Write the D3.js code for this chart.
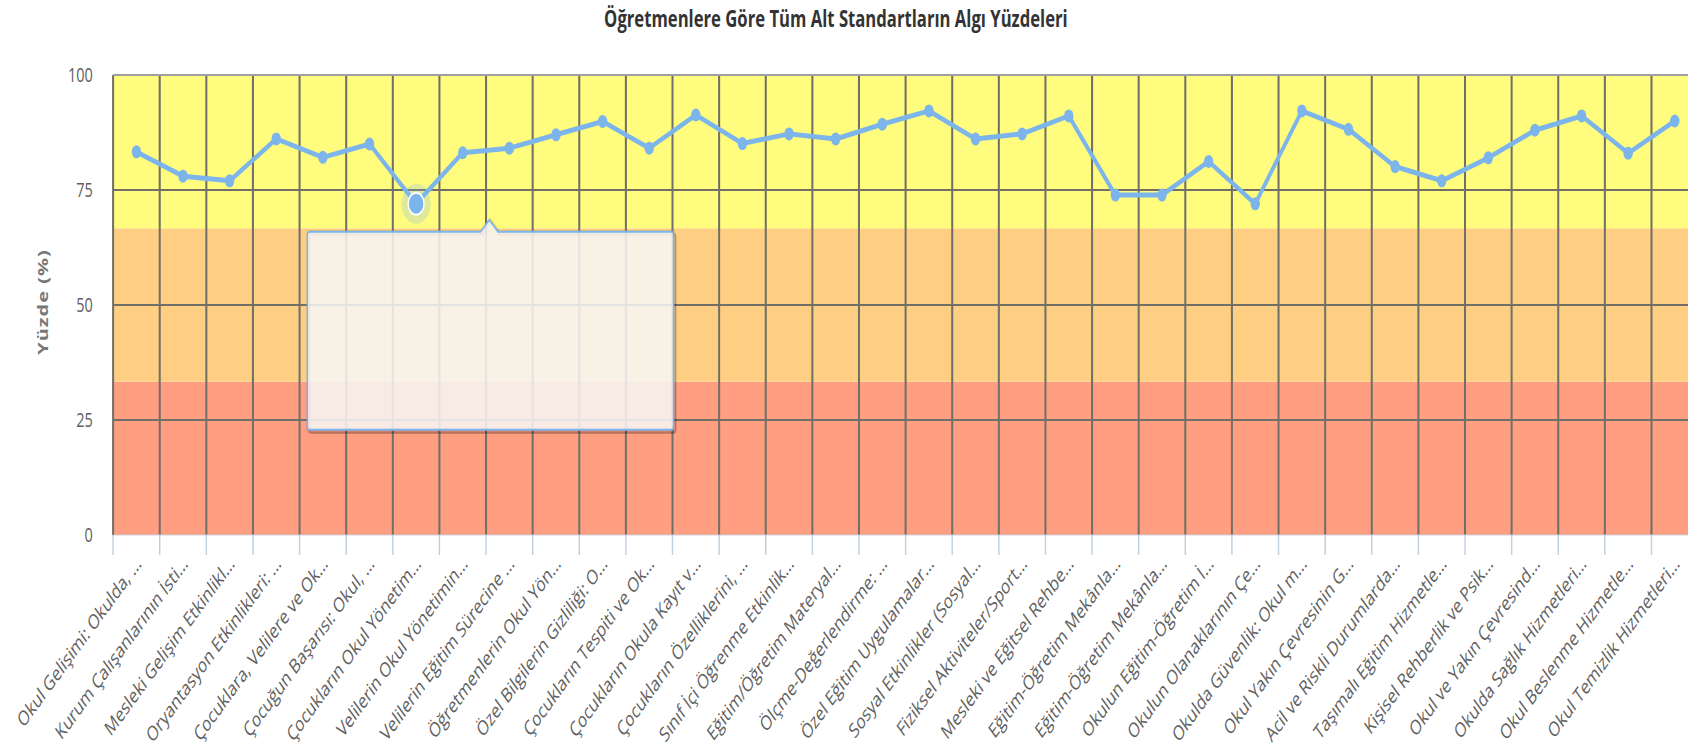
<!DOCTYPE html>
<html>
<head>
<meta charset="utf-8">
<script src="https://cdn.jsdelivr.net/npm/d3@7"></script>
<style>
  body { margin: 0; background: #fff; }
  text { font-family: "Open Sans", "DejaVu Sans", sans-serif; }
</style>
</head>
<body>
<div id="chart"></div>
<script>
// sub-standard labels as they are shown (already truncated by the chart)
const labels = [
    "Okul Gelişimi: Okulda, ...",
    "Kurum Çalışanlarının İsti...",
    "Mesleki Gelişim Etkinlikl...",
    "Oryantasyon Etkinlikleri: ...",
    "Çocuklara, Velilere ve Ok...",
    "Çocuğun Başarısı: Okul, ...",
    "Çocukların Okul Yönetim...",
    "Velilerin Okul Yönetimin...",
    "Velilerin Eğitim Sürecine ...",
    "Öğretmenlerin Okul Yön...",
    "Özel Bilgilerin Gizliliği: O...",
    "Çocukların Tespiti ve Ok...",
    "Çocukların Okula Kayıt v...",
    "Çocukların Özelliklerini, ...",
    "Sınıf İçi Öğrenme Etkinlik...",
    "Eğitim/Öğretim Materyal...",
    "Ölçme-Değerlendirme: ...",
    "Özel Eğitim Uygulamalar...",
    "Sosyal Etkinlikler (Sosyal...",
    "Fiziksel Aktiviteler/Sport...",
    "Mesleki ve Eğitsel Rehbe...",
    "Eğitim-Öğretim Mekânla...",
    "Eğitim-Öğretim Mekânla...",
    "Okulun Eğitim-Öğretim İ...",
    "Okulun Olanaklarının Çe...",
    "Okulda Güvenlik: Okul m...",
    "Okul Yakın Çevresinin G...",
    "Acil ve Riskli Durumlarda...",
    "Taşımalı Eğitim Hizmetle...",
    "Kişisel Rehberlik ve Psik...",
    "Okul ve Yakın Çevresind...",
    "Okulda Sağlık Hizmetleri...",
    "Okul Beslenme Hizmetle...",
    "Okul Temizlik Hizmetleri..."
];

const values = [83.3, 78, 77, 86.1, 82.1, 85, 72, 83.1, 84.1, 87, 89.9, 84.1,
    91.3, 85.1, 87.2, 86.1, 89.3, 92.2, 86.1, 87.2, 91.1, 73.9, 73.9, 81.2,
    72, 92.2, 88.2, 80.1, 77, 82, 88, 91.1, 83, 90];

const yTicks = [0, 25, 50, 75, 100];

// background bands (low / middle / high)
const bandStops = [0, 33.33, 66.67, 100];
const bandColors = ["#ff9e80", "#fece82", "#fffc7e"];

const hoverIndex = 6;

const chartTitle = "Öğretmenlere Göre Tüm Alt Standartların Algı Yüzdeleri";
const yTitle = "Yüzde (%)";

// the reference is squeezed horizontally, draw unsqueezed then scale x
const SX = 0.725;
const width = 1688, height = 755;
const plotLeft = 156, cellW = 64.3;
const plotTop = 75, plotBottom = 535;
const plotRight = plotLeft + cellW * labels.length;

const svg = d3.select("#chart").append("svg")
    .attr("width", width)
    .attr("height", height);

const g = svg.append("g").attr("transform", `scale(${SX},1)`);

const x = d3.scaleBand().domain(d3.range(labels.length)).range([plotLeft, plotRight]);
const y = d3.scaleLinear().domain([0, 100]).range([plotBottom, plotTop]);
const cx = i => x(i) + x.bandwidth() / 2;

// bands
g.selectAll(".band")
    .data(bandColors)
    .enter().append("rect")
    .attr("class", "band")
    .attr("x", plotLeft)
    .attr("width", plotRight - plotLeft)
    .attr("y", (d, i) => y(bandStops[i + 1]))
    .attr("height", (d, i) => y(bandStops[i]) - y(bandStops[i + 1]))
    .attr("fill", d => d);

// vertical grid
g.selectAll(".vgrid")
    .data(d3.range(labels.length + 1))
    .enter().append("line")
    .attr("class", "vgrid")
    .attr("x1", i => plotLeft + i * x.bandwidth())
    .attr("x2", i => plotLeft + i * x.bandwidth())
    .attr("y1", plotTop)
    .attr("y2", plotBottom)
    .attr("stroke", "#707068")
    .attr("stroke-width", 2.8);

// horizontal grid
g.selectAll(".hgrid")
    .data(yTicks.filter(t => t > 0))
    .enter().append("line")
    .attr("class", "hgrid")
    .attr("x1", plotLeft)
    .attr("x2", plotRight)
    .attr("y1", d => y(d))
    .attr("y2", d => y(d))
    .attr("stroke", d => d === 100 ? "#a0a0a0" : "#707068")
    .attr("stroke-width", 2);

// x axis ticks
g.selectAll(".xtick")
    .data(d3.range(labels.length + 1))
    .enter().append("line")
    .attr("class", "xtick")
    .attr("x1", i => plotLeft + i * x.bandwidth())
    .attr("x2", i => plotLeft + i * x.bandwidth())
    .attr("y1", plotBottom)
    .attr("y2", plotBottom + 20)
    .attr("stroke", "#c0d0e0")
    .attr("stroke-width", 2);

g.append("line")
    .attr("x1", plotLeft).attr("x2", plotRight)
    .attr("y1", plotBottom).attr("y2", plotBottom)
    .attr("stroke", "#c0d0e0")
    .attr("stroke-width", 1);

// y labels
g.selectAll(".ylab")
    .data(yTicks)
    .enter().append("text")
    .attr("class", "ylab")
    .attr("x", 128)
    .attr("y", d => y(d))
    .attr("dy", "0.35em")
    .attr("text-anchor", "end")
    .attr("font-size", 20)
    .attr("fill", "#606060")
    .text(d => d);

// y title
g.append("text")
    .attr("transform", `translate(66,${(plotTop + plotBottom) / 2 - 3}) rotate(-90)`)
    .attr("text-anchor", "middle")
    .attr("font-size", 20)
    .attr("font-weight", "bold")
    .attr("letter-spacing", 1)
    .attr("fill", "#777")
    .text(yTitle);

// x labels
g.selectAll(".xlab")
    .data(labels)
    .enter().append("text")
    .attr("class", "xlab")
    .attr("transform", (d, i) => `translate(${cx(i) + 8},${plotBottom + 30}) rotate(-45)`)
    .attr("text-anchor", "end")
    .attr("font-size", 20.5)
    .attr("fill", "#606060")
    .text(d => d);

// series
const line = d3.line()
    .x((d, i) => cx(i))
    .y(d => y(d));

g.append("path")
    .datum(values)
    .attr("d", line)
    .attr("fill", "none")
    .attr("stroke", "#7cb5ec")
    .attr("stroke-width", 5)
    .attr("stroke-linejoin", "round");

g.selectAll(".pt")
    .data(values)
    .enter().append("circle")
    .attr("class", "pt")
    .attr("cx", (d, i) => cx(i))
    .attr("cy", d => y(d))
    .attr("r", 6.5)
    .attr("fill", "#7cb5ec");

// hovered point with halo
const hx = cx(hoverIndex), hy = y(values[hoverIndex]);
g.append("circle")
    .attr("cx", hx).attr("cy", hy).attr("r", 20)
    .attr("fill", "#7cb5ec").attr("opacity", 0.25);
g.append("circle")
    .attr("cx", hx).attr("cy", hy).attr("r", 11)
    .attr("fill", "#7cb5ec")
    .attr("stroke", "#fff").attr("stroke-width", 2);

// empty tooltip box
const tip = { x0: hx - 150, x1: hx + 355, y0: hy + 28, y1: hy + 226, tx: hx + 101 };
const tipPath = `M${tip.x0 + 3},${tip.y0} L${tip.tx - 12},${tip.y0} L${tip.tx},${tip.y0 - 12} L${tip.tx + 12},${tip.y0}
    L${tip.x1 - 3},${tip.y0} Q${tip.x1},${tip.y0} ${tip.x1},${tip.y0 + 3} L${tip.x1},${tip.y1 - 3}
    Q${tip.x1},${tip.y1} ${tip.x1 - 3},${tip.y1} L${tip.x0 + 3},${tip.y1} Q${tip.x0},${tip.y1} ${tip.x0},${tip.y1 - 3}
    L${tip.x0},${tip.y0 + 3} Q${tip.x0},${tip.y0} ${tip.x0 + 3},${tip.y0} Z`;

[3, 2, 1].forEach(k => {
    g.append("path")
        .attr("d", tipPath)
        .attr("transform", `translate(${k},${k})`)
        .attr("fill", "none")
        .attr("stroke", "#000")
        .attr("stroke-opacity", 0.05 * k)
        .attr("stroke-width", 2 * (4 - k));
});
g.append("path")
    .attr("d", tipPath)
    .attr("fill", "rgba(247,247,247,0.85)")
    .attr("stroke", "#7cb5ec")
    .attr("stroke-width", 2);

// title
g.append("text")
    .attr("x", 1153)
    .attr("y", 27)
    .attr("text-anchor", "middle")
    .attr("font-size", 23)
    .attr("font-weight", "bold")
    .attr("fill", "#333")
    .text(chartTitle);
</script>
</body>
</html>
